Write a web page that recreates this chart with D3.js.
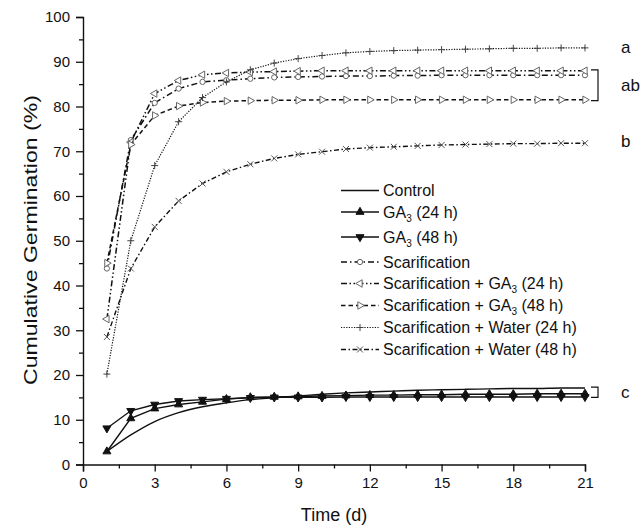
<!DOCTYPE html>
<html><head><meta charset="utf-8">
<script src="https://cdn.jsdelivr.net/npm/d3@7"></script>
<style>body{margin:0;background:#fff} text{font-family:Arial,"Liberation Sans",sans-serif;fill:#111}</style>
</head><body><svg id="c" width="644" height="528"></svg>
<script>
const days=[1,2,3,4,5,6,7,8,9,10,11,12,13,14,15,16,17,18,19,20,21];
const control=[2.9,6.6,9.6,11.6,12.9,13.8,14.5,14.9,15.3,15.7,16.0,16.2,16.4,16.6,16.7,16.8,16.9,17.0,17.0,17.1,17.1];
const ga24=[2.9,10.3,12.5,13.4,14.0,14.6,15.0,15.1,15.2,15.3,15.4,15.5,15.5,15.6,15.6,15.7,15.7,15.7,15.8,15.8,15.8];
const ga48=[8.1,12.0,13.4,14.2,14.5,14.7,14.9,15.0,15.0,15.0,15.1,15.1,15.1,15.1,15.1,15.1,15.1,15.1,15.1,15.1,15.1];
const scar=[43.8,72.5,80.8,84.0,85.5,85.9,86.2,86.5,86.6,86.7,86.8,86.8,86.9,86.9,87.0,87.0,87.0,87.0,87.0,87.0,87.0];
const scarGa24=[32.5,72.0,82.9,85.8,87.1,87.5,87.7,87.8,87.9,88.0,88.0,88.0,88.0,88.0,88.0,88.0,88.0,88.0,88.0,88.0,88.0];
const scarGa48=[45.0,71.5,78.0,80.1,80.9,81.2,81.3,81.4,81.4,81.5,81.5,81.5,81.5,81.5,81.5,81.5,81.5,81.5,81.5,81.5,81.5];
const scarW24=[20.2,50.0,66.8,76.6,82.0,85.5,88.2,89.7,90.7,91.4,92.0,92.3,92.5,92.6,92.7,92.8,92.9,93.0,93.0,93.1,93.1];
const scarW48=[28.5,43.8,53.1,58.9,62.8,65.4,67.1,68.4,69.3,69.9,70.5,70.8,71.0,71.2,71.4,71.5,71.6,71.7,71.7,71.8,71.8];
const seriesNames=["Control","GA_3 (24 h)","GA_3 (48 h)","Scarification","Scarification + GA_3 (24 h)","Scarification + GA_3 (48 h)","Scarification + Water (24 h)","Scarification + Water (48 h)"];
const xTicks=[0,3,6,9,12,15,18,21];
const xMinorTicks=[1.5,4.5,7.5,10.5,13.5,16.5,19.5];
const yTicks=[0,10,20,30,40,50,60,70,80,90,100];
const yMinorTicks=[5,15,25,35,45,55,65,75,85,95];
const groupLabels=["a","ab","b","c"];
const groupLabelValues=[93.2,84.8,72.3,16.2];
const bracketLow=[null,81.3,null,15.0];
const bracketHigh=[null,88.2,null,17.3];
const xTitle="Time (d)";
const yTitle="Cumulative Germination (%)";

const svg=d3.select("#c");
const x=d3.scaleLinear().domain([0,21]).range([83,585]);
const y=d3.scaleLinear().domain([0,100]).range([464.5,17]);

const allValues=[control,ga24,ga48,scar,scarGa24,scarGa48,scarW24,scarW48];
const styles=[
 {dash:null,marker:null,w:1.4,curve:d3.curveMonotoneX},
 {dash:null,marker:"up",w:1.4},
 {dash:null,marker:"down",w:1.4},
 {dash:"6,3,1.5,3",marker:"circle",w:1.5},
 {dash:"6,2.5,1.5,2.5,1.5,2.5",marker:"left",w:1.5},
 {dash:"4.5,3",marker:"right",w:1.5},
 {dash:"1.2,1.4",marker:"plus",w:1.2},
 {dash:"5,2.5,1.5,2.5",marker:"cross",w:1.4}
];
const legendRowY=[190.5,212,237,262,283.5,305.5,327.5,349.5];

function markerPath(type){
  const tri=d3.symbol().type(d3.symbolTriangle).size(28)();
  switch(type){
    case "up": return {d:tri,rot:0,fill:"#111",stroke:"#111"};
    case "down": return {d:tri,rot:180,fill:"#111",stroke:"#111"};
    case "left": return {d:d3.symbol().type(d3.symbolTriangle).size(24)(),rot:-90,fill:"#fff",stroke:"#666"};
    case "right": return {d:d3.symbol().type(d3.symbolTriangle).size(24)(),rot:90,fill:"#fff",stroke:"#666"};
    case "circle": return {d:d3.symbol().type(d3.symbolCircle).size(22)(),rot:0,fill:"#fff",stroke:"#666"};
    case "plus": return {d:"M-3.5,0H3.5M0,-3.5V3.5",rot:0,fill:"none",stroke:"#444"};
    case "cross": return {d:"M-3,-3L3,3M-3,3L3,-3",rot:0,fill:"none",stroke:"#555"};
  }
}

// axes
const xAxis=d3.axisBottom(x).tickValues(xTicks).tickSize(7).tickPadding(6);
const gx=svg.append("g").attr("transform","translate(0,464.5)").call(xAxis);
gx.selectAll(".tick line").attr("stroke","#111").attr("stroke-width",1.3);
gx.select(".domain").attr("stroke","#111").attr("stroke-width",1.4);
gx.selectAll("text").attr("font-size",15).style("font-family","Arial, 'Liberation Sans', sans-serif").attr("fill","#111");
const gxm=svg.append("g").attr("transform","translate(0,464.5)").call(d3.axisBottom(x).tickValues(xMinorTicks).tickSize(4).tickFormat(""));
gxm.select(".domain").remove();
gxm.selectAll(".tick line").attr("stroke","#111").attr("stroke-width",1.3);

const yAxis=d3.axisLeft(y).tickValues(yTicks).tickSize(7).tickPadding(6);
const gy=svg.append("g").attr("transform","translate(83,0)").call(yAxis);
gy.selectAll(".tick line").attr("stroke","#111").attr("stroke-width",1.3);
gy.select(".domain").attr("stroke","#111").attr("stroke-width",1.4);
gy.selectAll("text").attr("font-size",15).style("font-family","Arial, 'Liberation Sans', sans-serif").attr("fill","#111");
const gym=svg.append("g").attr("transform","translate(83,0)").call(d3.axisLeft(y).tickValues(yMinorTicks).tickSize(4).tickFormat(""));
gym.select(".domain").remove();
gym.selectAll(".tick line").attr("stroke","#111").attr("stroke-width",1.3);

svg.append("text").attr("x",334).attr("y",521).attr("text-anchor","middle").attr("font-size",18).text(xTitle);
svg.append("text").attr("transform","translate(37,240) rotate(-90)").attr("text-anchor","middle").attr("font-size",18)
  .attr("textLength",290).attr("lengthAdjust","spacingAndGlyphs").text(yTitle);

// series
allValues.forEach((vals,i)=>{
  const st=styles[i];
  const line=d3.line().x((d,j)=>x(days[j])).y(d=>y(d)).curve(st.curve||d3.curveLinear);
  svg.append("path").datum(vals).attr("d",line).attr("fill","none").attr("stroke","#111")
    .attr("stroke-width",st.w).attr("stroke-dasharray",st.dash);
  if(st.marker){
    const m=markerPath(st.marker);
    svg.append("g").selectAll("path").data(vals).join("path")
      .attr("d",m.d).attr("transform",(d,j)=>`translate(${x(days[j])},${y(d)}) rotate(${m.rot})`)
      .attr("fill",m.fill).attr("stroke",m.stroke).attr("stroke-width",1);
  }
});

// legend
const lg=svg.append("g");
seriesNames.forEach((name,i)=>{
  const ly=legendRowY[i];
  const st=styles[i];
  lg.append("line").attr("x1",341).attr("x2",379).attr("y1",ly).attr("y2",ly)
    .attr("stroke","#111").attr("stroke-width",st.w).attr("stroke-dasharray",st.dash);
  if(st.marker){
    const m=markerPath(st.marker);
    lg.append("path").attr("d",m.d).attr("transform",`translate(360,${ly}) rotate(${m.rot})`)
      .attr("fill",m.fill).attr("stroke",m.stroke).attr("stroke-width",1);
  }
  const t=lg.append("text").attr("x",383).attr("y",ly+5.5).attr("font-size",16);
  const parts=name.split("_3");
  t.append("tspan").text(parts[0]);
  if(parts.length>1){
    t.append("tspan").attr("font-size",10).attr("dy",4).text("3");
    t.append("tspan").attr("dy",-4).text(parts[1]);
  }
});

// group labels and brackets
groupLabels.forEach((lab,i)=>{
  svg.append("text").attr("x",621).attr("y",y(groupLabelValues[i])+6).attr("font-size",17).text(lab);
  if(bracketLow[i]!==null){
    const y1=y(bracketHigh[i]),y2=y(bracketLow[i]);
    svg.append("path").attr("d",`M591,${y1}H598V${y2}H591`).attr("fill","none").attr("stroke","#111").attr("stroke-width",1.2);
  }
});
</script></body></html>
